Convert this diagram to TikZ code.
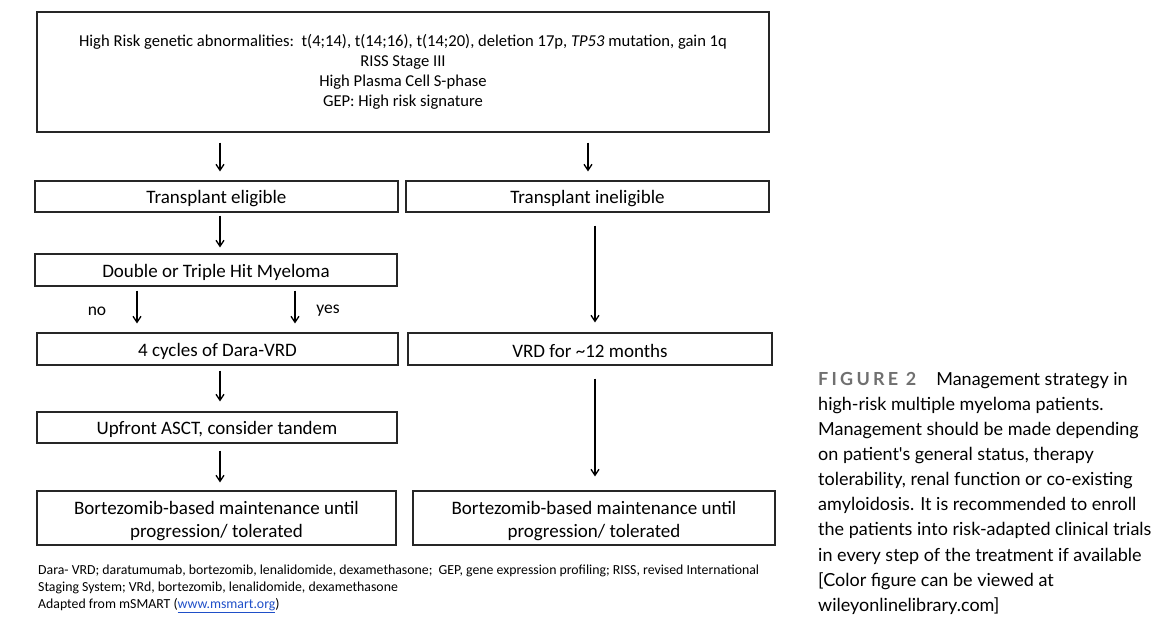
\documentclass[tikz,border=0pt]{standalone}
\usepackage{fontspec}
\setmainfont{Carlito}
\newfontfamily\capfont{Lato}
\usetikzlibrary{arrows.meta}
\begin{document}
\begin{tikzpicture}[x=1pt,y=-1pt,
  box/.style={draw=black!85, line width=1.1pt, inner sep=0pt, align=center, font=\fontsize{19}{23}\selectfont,
    execute at begin node={\rule{0pt}{18pt}}},
  arr/.style={-{Straight Barb[length=6pt,width=8pt]}, line width=1.3pt},
  lbl/.style={font=\fontsize{17.5}{19}\selectfont}]
\useasboundingbox (0,0) rectangle (1163,622);
\node[box, minimum width=732, minimum height=120, font=\fontsize{16.6}{20.2}\selectfont, execute at begin node={}] (top) at (403,72)
  {High Risk genetic abnormalities:\ \ t(4;14), t(14;16), t(14;20), deletion 17p, \textit{TP53} mutation, gain 1q\\
   RISS Stage III\\ High Plasma Cell S-phase\\ GEP: High risk signature};
\node[box, minimum width=363, minimum height=31] (te) at (216.5,196.5) {Transplant eligible};
\node[box, minimum width=363, minimum height=31] (ti) at (587.5,196.5) {Transplant ineligible};
\node[box, minimum width=362, minimum height=32] (dt) at (216,270) {Double or Triple Hit Myeloma};
\node[box, minimum width=361, minimum height=32] (c4) at (217.5,349) {4 cycles of Dara-VRD};
\node[box, minimum width=364, minimum height=32] (vrd) at (590,349) {VRD for \textasciitilde12 months};
\node[box, minimum width=360, minimum height=31] (ua) at (217,427.5) {Upfront ASCT, consider tandem};
\node[box, minimum width=359, minimum height=54, execute at begin node={}] (bl) at (216.5,518) {\rule{0pt}{20pt}Bortezomib-based maintenance until\\ progression/ tolerated};
\node[box, minimum width=362, minimum height=54, execute at begin node={}] (br) at (594,518) {\rule{0pt}{20pt}Bortezomib-based maintenance until\\ progression/ tolerated};
\coordinate (xl) at (220,0);
\coordinate (xr) at (588,0);
\coordinate (xno) at (137,0);
\coordinate (xyes) at (295,0);
\coordinate (xrr) at (595,0);
\draw[arr, shorten <=10pt, shorten >=9pt] (top.south -| xl) -- (te.north -| xl);
\draw[arr, shorten <=10pt, shorten >=9pt] (top.south -| xr) -- (ti.north -| xr);
\draw[arr, shorten <=3pt, shorten >=6pt] (te.south -| xl) -- (dt.north -| xl);
\draw[arr, shorten <=4pt, shorten >=9pt] (dt.south -| xno) -- (c4.north -| xno);
\draw[arr, shorten <=4pt, shorten >=9pt] (dt.south -| xyes) -- (c4.north -| xyes);
\draw[arr, shorten <=13pt, shorten >=10pt] (ti.south -| xrr) -- (vrd.north -| xrr);
\draw[arr, shorten <=5pt, shorten >=10pt] (c4.south -| xl) -- (ua.north -| xl);
\draw[arr, shorten <=7pt, shorten >=8pt] (ua.south -| xl) -- (bl.north -| xl);
\draw[arr, shorten <=13pt, shorten >=14pt] (vrd.south -| xrr) -- (br.north -| xrr);
\node[lbl] (no) at (97,311) {no};
\node[lbl] (yes) at (328,311) {yes};
\node[anchor=north west, align=left, inner sep=0pt, font=\fontsize{13.8}{17}\selectfont] (fn) at (38,565)
  {Dara- VRD; daratumumab, bortezomib, lenalidomide, dexamethasone;\ \ GEP, gene expression profiling; RISS, revised International\\
   Staging System; VRd, bortezomib, lenalidomide, dexamethasone\\
   Adapted from mSMART ({\color[HTML]{1F4FC8}\underline{www.msmart.org}})};
\node[anchor=north west, align=left, inner sep=0pt, font=\capfont\fontsize{18}{25.1}\selectfont] (cap) at (818,372)
  {{\bfseries\color[HTML]{707070}\addfontfeature{LetterSpace=18}FIGURE 2}\hspace{20pt}Management strategy in\\
   high-risk multiple myeloma patients.\\
   Management should be made depending\\
   on patient's general status, therapy\\
   tolerability, renal function or co-existing\\
   amyloidosis. It is recommended to enroll\\
   the patients into risk-adapted clinical trials\\
   in every step of the treatment if available\\
   {[}Color figure can be viewed at\\
   wileyonlinelibrary.com]};
\end{tikzpicture}
\end{document}
